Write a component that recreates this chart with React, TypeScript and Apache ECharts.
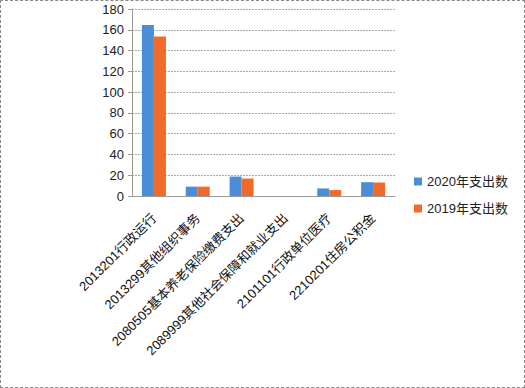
import React, { useEffect, useRef } from "react";
import * as echarts from "echarts";

const categories = [
  "2013201行政运行",
  "2013299其他组织事务",
  "2080505基本养老保险缴费支出",
  "2089999其他社会保障和就业支出",
  "2101101行政单位医疗",
  "2210201住房公积金",
];
const series2020 = [164.5, 9, 18.7, 0, 7.3, 13.3];
const series2019 = [153.5, 9, 16.8, 0, 5.7, 13];
const yTicks = [0, 20, 40, 60, 80, 100, 120, 140, 160, 180];

export default function App() {
  const ref = useRef<HTMLDivElement>(null);
  useEffect(() => {
    document.body.style.margin = "0";
    const chart = echarts.init(ref.current!, null, { renderer: "svg" });
    const font = "Liberation Sans, Arial, Noto Sans CJK SC, sans-serif";
    chart.setOption({
      animation: false,
      backgroundColor: "#ffffff",
      textStyle: { fontFamily: font },
      grid: { left: 131, right: 129, top: 8, bottom: 191, containLabel: false },
      legend: {
        orient: "vertical",
        left: 408,
        top: 169,
        itemWidth: 8,
        itemHeight: 8,
        itemGap: 14,
        icon: "rect",
        textStyle: { fontSize: 13, color: "#222", fontFamily: font },
        data: ["2020年支出数", "2019年支出数"],
      },
      xAxis: {
        type: "category",
        data: categories,
        axisLine: { lineStyle: { color: "#999" } },
        axisTick: { alignWithLabel: false, length: 4, lineStyle: { color: "#999" } },
        axisLabel: {
          rotate: 45,
          fontSize: 13,
          color: "#111",
          margin: 20,
          interval: 0,
          fontFamily: font,
        },
      },
      yAxis: {
        type: "value",
        min: 0,
        max: 180,
        interval: 20,
        axisLine: { show: true, lineStyle: { color: "#999" } },
        axisTick: { show: true, length: 4, lineStyle: { color: "#999" } },
        axisLabel: {
          fontSize: 13,
          color: "#222",
          margin: 8,
          formatter: (v: number) => (yTicks.includes(v) ? String(v) : ""),
        },
        splitLine: { lineStyle: { color: "#aaa", type: [2, 1] } },
      },
      series: [
        {
          name: "2020年支出数",
          type: "bar",
          data: series2020,
          barWidth: 12,
          barGap: "0%",
          itemStyle: { color: "#4a8fd6" },
        },
        {
          name: "2019年支出数",
          type: "bar",
          data: series2019,
          barWidth: 12,
          barGap: "0%",
          itemStyle: { color: "#f06a2a" },
        },
      ],
    });
    return () => chart.dispose();
  }, []);
  return (
    <div
      style={{
        position: "absolute",
        left: 0,
        top: 0,
        width: 525,
        height: 388,
        boxSizing: "border-box",
        border: "1px dashed #888",
      }}
    >
      <div ref={ref} style={{ width: 523, height: 386 }} />
    </div>
  );
}
